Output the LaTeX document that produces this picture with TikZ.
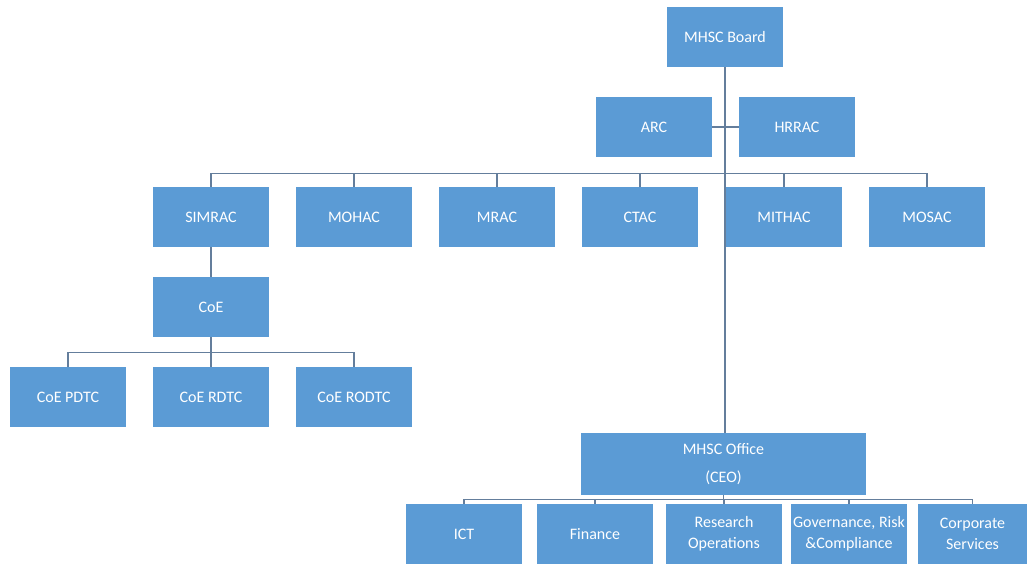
\documentclass[tikz,border=0pt]{standalone}
\usepackage{fontspec}
\setmainfont{Carlito}
\definecolor{orgblue}{RGB}{91, 155, 213}
\definecolor{orgline}{RGB}{100, 126, 156}
\usepackage{tikz}
\usetikzlibrary{positioning, calc}
\tikzset{
  unit/.style={fill=orgblue, text=white, minimum width=116pt, minimum height=60pt,
    inner sep=1pt, align=center, font=\fontsize{16}{21}\selectfont},
  link/.style={draw=orgline, line width=1.1pt}
}

\begin{document}
\begin{tikzpicture}[x=1pt, y={(0pt,-1pt)}]
  \useasboundingbox[fill=white] (0,0) rectangle (1028,565);

  \node[unit] (board) at (725,37) {MHSC Board};
  \node[unit] (arc) at (654,127) {ARC};
  \node[unit] (hrrac) at (797,127) {HRRAC};

  \node[unit] (simrac) at (211,217) {SIMRAC};
  \node[unit] (mohac) at (354,217) {MOHAC};
  \node[unit] (mrac) at (497,217) {MRAC};
  \node[unit] (ctac) at (640,217) {CTAC};
  \node[unit] (mithac) at (784,217) {MITHAC};
  \node[unit] (mosac) at (927,217) {MOSAC};

  \node[unit] (coe) at (211,307) {CoE};
  \node[unit] (coepdtc) at (68,397) {CoE PDTC};
  \node[unit] (coerdtc) at (211,397) {CoE RDTC};
  \node[unit] (coerodtc) at (354,397) {CoE RODTC};

  \node[unit, minimum width=285pt, minimum height=62pt] (office) at (723.5,464) {MHSC Office\\[7pt](CEO)};
  \node[unit] (ict) at (464,534) {ICT};
  \node[unit] (finance) at (595,534) {Finance};
  \node[unit] (research) at (724,534) {Research\\Operations};
  \node[unit] (governance) at (849,534) {Governance, Risk\\\&Compliance};
  \node[unit, minimum width=109pt] (corporate) at (972.5,534) {Corporate\\Services};

  \draw[link] (board.south) -- (board.south |- office.north);
  \draw[link] (arc.east) -- (hrrac.west);
  \foreach \c in {simrac, mohac, mrac, ctac, mithac, mosac}
    \draw[link] (board.south) -- ++(0,106) -| (\c.north);

  \draw[link] (simrac.south) -- (coe.north);
  \foreach \c in {coepdtc, coerdtc, coerodtc}
    \draw[link] (coe.south) -- ++(0,15) -| (\c.north);

  \foreach \c in {ict, finance, research, governance, corporate}
    \draw[link] (office.south) -- ++(0,4) -| (\c.north);
\end{tikzpicture}
\end{document}
